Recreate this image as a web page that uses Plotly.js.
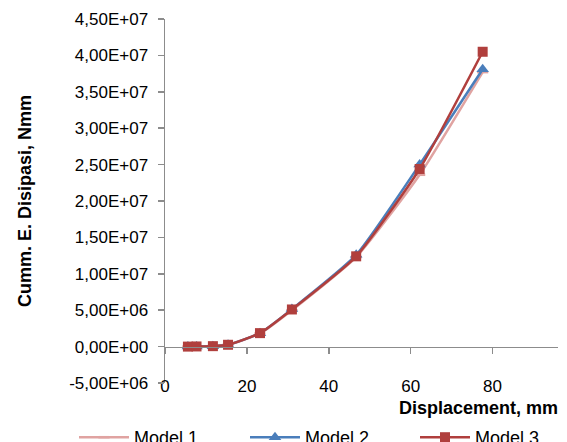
<!DOCTYPE html>
<html>
<head>
<meta charset="utf-8">
<script src="https://cdn.plot.ly/plotly-3.0.1.min.js"></script>
<style>html,body{margin:0;padding:0;overflow:hidden;background:#fff;}</style>
</head>
<body>
<div id="chart" style="width:567px;height:442px;"></div>
<script>
// Data
const displacement = [5.6, 7.7, 11.7, 15.4, 23.2, 31.0, 46.7, 62.2, 77.6];
const model1 = [0, 20000, 60000, 250000, 1800000, 5000000, 12300000, 23600000, 37700000];
const model2 = [0, 20000, 60000, 250000, 1850000, 5150000, 12600000, 25000000, 38100000];
const model3 = [0, 20000, 60000, 250000, 1850000, 5100000, 12400000, 24400000, 40500000];
const seriesNames = ["Model 1", "Model 2", "Model 3"];
const yTickVals = [-5000000, 0, 5000000, 10000000, 15000000, 20000000, 25000000, 30000000, 35000000, 40000000, 45000000];
const yTickText = ["-5,00E+06", "0,00E+00", "5,00E+06", "1,00E+07", "1,50E+07", "2,00E+07", "2,50E+07", "3,00E+07", "3,50E+07", "4,00E+07", "4,50E+07"];
const xTickVals = [0, 20, 40, 60, 80];
const xTickText = ["0", "20", "40", "60", "80"];

const FONT = "Liberation Sans, Arial, sans-serif";
const lineShape = {shape: 'spline', smoothing: 0.5};

const traces = [
  {x: displacement, y: model1, name: seriesNames[0], mode: 'lines+markers', legend: 'legend',
   line: Object.assign({color: '#E0A3A1', width: 2.5}, lineShape),
   marker: {symbol: 'line-ew', size: 8, line: {color: '#E0A3A1', width: 2.5}}},
  {x: displacement, y: model2, name: seriesNames[1], mode: 'lines+markers', legend: 'legend2',
   line: Object.assign({color: '#4A7EBB', width: 2.5}, lineShape),
   marker: {symbol: 'triangle-up', size: 11, color: '#4A7EBB'}},
  {x: displacement, y: model3, name: seriesNames[2], mode: 'lines+markers', legend: 'legend3',
   line: Object.assign({color: '#B03F3D', width: 2.5}, lineShape),
   marker: {symbol: 'square', size: 10, color: '#B03F3D'}},
  // invisible carrier so the zero-crossing axis (xaxis2) is drawn
  {x: displacement, y: model3, xaxis: 'x2', yaxis: 'y', mode: 'lines', opacity: 0,
   showlegend: false, hoverinfo: 'skip', line: {width: 0}}
];

function legendAt(px) {
  return {orientation: 'h', x: px / 567, xref: 'container', xanchor: 'left',
          y: 23 / 442, yref: 'container', yanchor: 'top',
          font: {family: FONT, size: 18, color: '#000'}, itemwidth: 50, borderwidth: 0,
          bgcolor: 'rgba(0,0,0,0)'};
}

const layout = {
  width: 567, height: 442,
  margin: {l: 165, r: 9, t: 19, b: 59, autoexpand: false},
  paper_bgcolor: '#fff', plot_bgcolor: '#fff',
  font: {family: FONT, size: 16, color: '#000'},
  showlegend: true,
  legend: legendAt(74),
  legend2: legendAt(245),
  legend3: legendAt(415),
  xaxis: {range: [0, 96], showline: false, showgrid: false, zeroline: false, ticks: '',
          tickmode: 'array', tickvals: xTickVals, ticktext: xTickText,
          tickfont: {family: FONT, size: 17, color: '#000'}, ticklabelstandoff: -9},
  xaxis2: {overlaying: 'x', anchor: 'free', position: 0.1, range: [0, 96], matches: 'x',
           showline: true, linecolor: '#8C8C8C', linewidth: 1.5, showgrid: false, zeroline: false,
           ticks: 'outside', ticklen: 6, tickcolor: '#8C8C8C', tickwidth: 1.5,
           tickmode: 'array', tickvals: xTickVals, showticklabels: false},
  yaxis: {range: [-5000000, 45000000], showline: true, linecolor: '#8C8C8C', linewidth: 1.5,
          showgrid: false, zeroline: false, ticks: 'outside', ticklen: 6, tickcolor: '#8C8C8C', tickwidth: 1.5,
          tickmode: 'array', tickvals: yTickVals, ticktext: yTickText,
          tickfont: {family: FONT, size: 17, color: '#000'}, ticklabelstandoff: 6},
  annotations: [
    {text: '<b>Cumm. E. Disipasi, Nmm</b>', textangle: -90, xref: 'paper', yref: 'paper',
     x: -0.356, y: 0.5, xanchor: 'center', yanchor: 'middle', showarrow: false,
     font: {family: FONT, size: 18, color: '#000'}},
    {text: '<b>Displacement, mm</b>', xref: 'paper', yref: 'paper',
     x: 0.59, y: -0.036, xanchor: 'left', yanchor: 'top', showarrow: false,
     font: {family: FONT, size: 18, color: '#000'}}
  ]
};

Plotly.newPlot('chart', traces, layout, {displayModeBar: false, staticPlot: true});
</script>
</body>
</html>
